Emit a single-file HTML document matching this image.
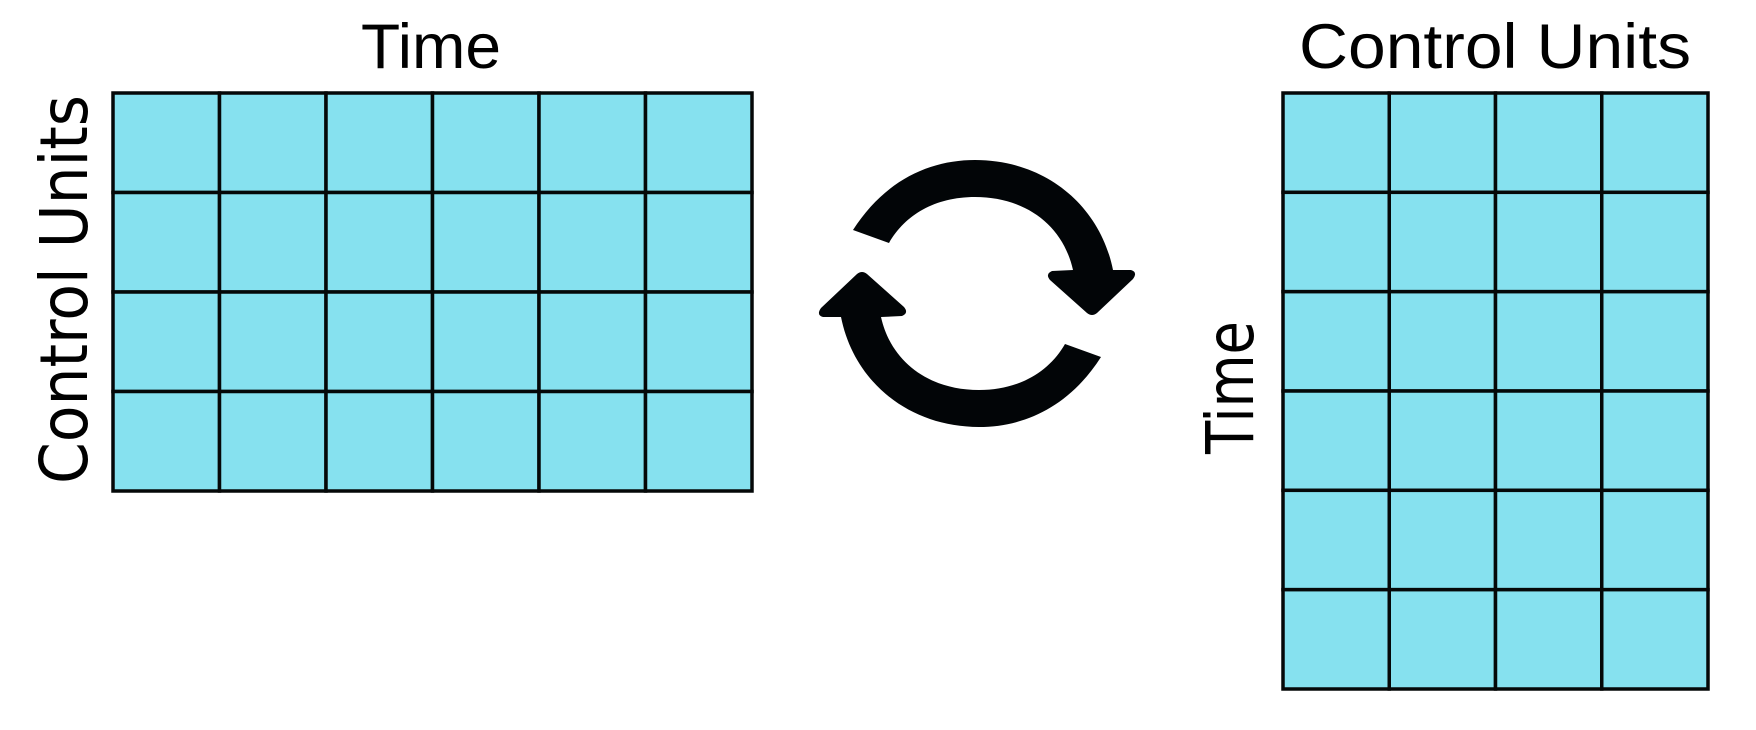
<!DOCTYPE html>
<html><head><meta charset="utf-8"><style>html,body{margin:0;padding:0;background:#fff;}svg{display:block}</style></head>
<body>
<svg id="fig" width="1756" height="730" viewBox="0 0 1756 730" xmlns="http://www.w3.org/2000/svg">
<text x="361" y="68" font-family="Liberation Sans, sans-serif" font-size="63" textLength="140" lengthAdjust="spacingAndGlyphs">Time</text>
<text x="1299" y="68" font-family="Liberation Sans, sans-serif" font-size="63" textLength="392" lengthAdjust="spacingAndGlyphs">Control Units</text>
<text transform="translate(87,484) rotate(-90)" font-family="DejaVu Sans, sans-serif" font-size="66" textLength="389" lengthAdjust="spacingAndGlyphs">Control Units</text>
<text transform="translate(1253,454) rotate(-90)" font-family="DejaVu Sans, sans-serif" font-size="66" textLength="133" lengthAdjust="spacingAndGlyphs">Time</text>
<g id="left-grid"></g>
<g id="right-grid"></g>
<g fill="#020507">
<path d="M853,230 C885,180 930,160 975,160 C1045,160 1100,205 1113,270 L1131,270 Q1138,272 1133,279 L1097,313 Q1092,317 1087,313 L1050,280 Q1045,274 1052,271 L1073,270 C1063,225 1025,197 975,197 C935,197 905,215 889,243 Z"/>
<path transform="rotate(180 977 293.5)" d="M853,230 C885,180 930,160 975,160 C1045,160 1100,205 1113,270 L1131,270 Q1138,272 1133,279 L1097,313 Q1092,317 1087,313 L1050,280 Q1045,274 1052,271 L1073,270 C1063,225 1025,197 975,197 C935,197 905,215 889,243 Z"/>
</g>
</svg>
<script>
const leftCols = 6, leftRows = 4;
const rightCols = 4, rightRows = 6;
const NS = 'http://www.w3.org/2000/svg';
function grid(id, x0, y0, x1, y1, cols, rows, nm) {
  const g = document.getElementById(id);
  const cw = (x1 - x0) / cols, rh = (y1 - y0) / rows;
  for (let r = 0; r < rows; r++) for (let c = 0; c < cols; c++) {
    const rc = document.createElementNS(NS, 'rect');
    rc.setAttribute('x', x0 + c * cw); rc.setAttribute('y', y0 + r * rh);
    rc.setAttribute('width', cw); rc.setAttribute('height', rh);
    rc.setAttribute('fill', '#86e1ef'); rc.setAttribute('stroke', '#050808'); rc.setAttribute('stroke-width', '3.5');
    
    
    g.appendChild(rc);
  }
}
grid('left-grid', 113, 93, 752, 491, leftCols, leftRows, 'left-grid');
grid('right-grid', 1283, 93, 1708, 689, rightCols, rightRows, 'right-grid');
</script>
</body></html>
